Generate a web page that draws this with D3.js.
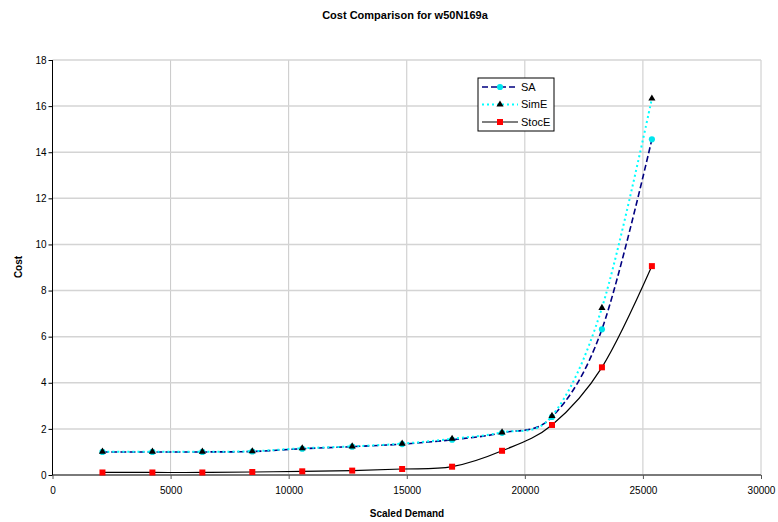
<!DOCTYPE html>
<html>
<head>
<meta charset="utf-8">
<script src="https://cdn.jsdelivr.net/npm/d3@7"></script>
<style>
  html, body { margin: 0; padding: 0; background: #fff; }
  svg { display: block; font-family: Arial, "Liberation Sans", sans-serif; }
</style>
</head>
<body>
<svg id="chart" width="778" height="522"></svg>
<script>
// Scaled demand levels (x) and the cost of each method at that demand
const demand = [2115, 4230, 6345, 8460, 10575, 12690, 14805, 16920, 19035, 21150, 23265, 25380];
const saCost    = [1.00, 1.00, 1.00, 1.02, 1.14, 1.23, 1.34, 1.53, 1.83, 2.52, 6.32, 14.56];
const simECost  = [1.01, 1.01, 1.01, 1.03, 1.16, 1.24, 1.36, 1.57, 1.85, 2.56, 7.25, 16.33];
const stocECost = [0.11, 0.11, 0.11, 0.13, 0.16, 0.19, 0.26, 0.36, 1.05, 2.17, 4.67, 9.06];
const seriesNames = ["SA", "SimE", "StocE"];
const xTicks = [0, 5000, 10000, 15000, 20000, 25000, 30000];
const yTicks = [0, 2, 4, 6, 8, 10, 12, 14, 16, 18];

const svg = d3.select("#chart");
const plotL = 52.5, plotR = 761, plotT = 60, plotB = 475;

const x = d3.scaleLinear().domain([0, 30000]).range([plotL, plotR]);
const y = d3.scaleLinear().domain([0, 18]).range([plotB, plotT]);

// Gridlines
svg.append("g").selectAll("line").data(xTicks.slice(1)).join("line")
  .attr("x1", d => x(d)).attr("x2", d => x(d))
  .attr("y1", plotT).attr("y2", plotB)
  .attr("stroke", "#c8c8c8").attr("stroke-width", 1);
svg.append("g").selectAll("line").data(yTicks.slice(1)).join("line")
  .attr("x1", plotL).attr("x2", plotR)
  .attr("y1", d => y(d)).attr("y2", d => y(d))
  .attr("stroke", "#d4d4d4").attr("stroke-width", 1.5);

// Axes
const xAxis = d3.axisBottom(x).tickValues(xTicks).tickSize(4).tickFormat(d3.format("d"));
const gx = svg.append("g").attr("transform", `translate(0,${plotB})`).call(xAxis);
gx.select(".domain").attr("stroke", "#7a7a7a").attr("stroke-width", 2).attr("d", `M${plotL},0H${plotR}`);
gx.selectAll(".tick line").attr("stroke", "#555");
gx.selectAll("text").attr("font-size", 10).attr("fill", "#000").attr("dy", "1.2em")
  .attr("font-family", "Arial, 'Liberation Sans', sans-serif");

const yAxis = d3.axisLeft(y).tickValues(yTicks).tickSize(4);
const gy = svg.append("g").attr("transform", `translate(${plotL},0)`).call(yAxis);
gy.select(".domain").attr("stroke", "#000").attr("stroke-width", 1).attr("d", `M0,${plotT}V${plotB}`);
gy.selectAll(".tick line").attr("stroke", "#000");
gy.selectAll("text").attr("font-size", 10).attr("fill", "#000").attr("x", -6)
  .attr("font-family", "Arial, 'Liberation Sans', sans-serif");

// Smoothed series lines
const line = d3.line().x(d => x(d[0])).y(d => y(d[1])).curve(d3.curveCardinal.tension(0));
const zip = vals => demand.map((d, i) => [d, vals[i]]);

const series = [
  { name: "StocE", vals: stocECost, stroke: "#000000", width: 1.2, dash: null },
  { name: "SA", vals: saCost, stroke: "#000080", width: 1.6, dash: "6,3" },
  { name: "SimE", vals: simECost, stroke: "#00ffff", width: 2, dash: "2,3" }
];
series.forEach(s => {
  svg.append("path").datum(zip(s.vals)).attr("d", line)
    .attr("fill", "none").attr("stroke", s.stroke).attr("stroke-width", s.width)
    .attr("stroke-dasharray", s.dash);
});

// Markers
const sym = (type, size) => d3.symbol().type(type).size(size)();
function drawMarkers(vals, type, size, fill) {
  svg.append("g").selectAll("path").data(zip(vals)).join("path")
    .attr("d", sym(type, size))
    .attr("transform", d => `translate(${x(d[0])},${y(d[1])})`)
    .attr("fill", fill);
}
drawMarkers(stocECost, d3.symbolSquare, 36, "#ff0000");
drawMarkers(saCost, d3.symbolCircle, 30, "#00e5ee");
drawMarkers(simECost, d3.symbolTriangle, 22, "#000000");

// Legend
const lg = svg.append("g").attr("transform", "translate(478,78)");
lg.append("rect").attr("width", 76).attr("height", 53)
  .attr("fill", "#fff").attr("stroke", "#000").attr("stroke-width", 1);
const legendItems = [
  { name: seriesNames[0], stroke: "#000080", width: 1.6, dash: "6,3", marker: d3.symbolCircle, msize: 30, mfill: "#00e5ee" },
  { name: seriesNames[1], stroke: "#00ffff", width: 2, dash: "2,3", marker: d3.symbolTriangle, msize: 22, mfill: "#000" },
  { name: seriesNames[2], stroke: "#000", width: 1.2, dash: null, marker: d3.symbolSquare, msize: 36, mfill: "#ff0000" }
];
legendItems.forEach((it, i) => {
  const cy = 9 + i * 17.5;
  lg.append("line").attr("x1", 4).attr("x2", 40).attr("y1", cy).attr("y2", cy)
    .attr("stroke", it.stroke).attr("stroke-width", it.width).attr("stroke-dasharray", it.dash);
  lg.append("path").attr("d", sym(it.marker, it.msize)).attr("transform", `translate(22,${cy})`)
    .attr("fill", it.mfill);
  lg.append("text").attr("x", 43).attr("y", cy).attr("dy", "0.35em")
    .attr("font-size", 11).text(it.name);
});

// Titles
svg.append("text").attr("x", 405).attr("y", 19).attr("text-anchor", "middle")
  .attr("font-size", 11).attr("font-weight", "bold").text("Cost Comparison for w50N169a");
svg.append("text").attr("x", 407).attr("y", 517).attr("text-anchor", "middle")
  .attr("font-size", 10).attr("font-weight", "bold").text("Scaled Demand");
svg.append("text").attr("transform", "translate(22,267) rotate(-90)").attr("text-anchor", "middle")
  .attr("font-size", 10).attr("font-weight", "bold").text("Cost");
</script>
</body>
</html>
